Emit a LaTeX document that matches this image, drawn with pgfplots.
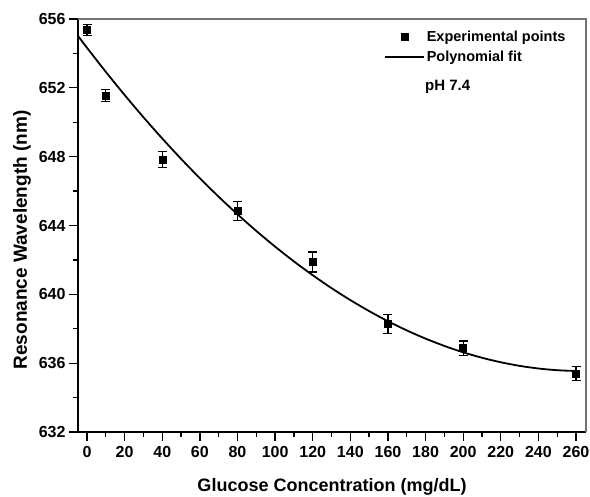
\documentclass[border=0pt]{standalone}
\usepackage{fontspec}
\setmainfont{Liberation Sans}
\usepackage{pgfplots}
\pgfplotsset{compat=1.18}

\begin{document}
\begin{tikzpicture}
\path[use as bounding box] (0,0) rectangle (590pt,497pt);
\begin{axis}[
  at={(78pt,65pt)}, anchor=south west,
  width=508pt, height=413pt, scale only axis,
  xmin=-4.8, xmax=265.3,
  ymin=632, ymax=656,
  xtick={0,20,...,260},
  ytick={632,636,...,656},
  minor x tick num=1, minor y tick num=1,
  axis x line*=bottom, axis y line*=left,
  axis line style={black, line width=1.3pt},
  tick align=outside,
  tick style={black, line width=1.3pt},
  major tick length=9pt, minor tick length=5pt,
  /pgf/number format/assume math mode=true,
  ticklabel style={font=\fontsize{16}{18}\selectfont\bfseries},
  xticklabel style={yshift=-2pt},
  every axis x label/.style={at={(rel axis cs:0.5,0)}, anchor=base, yshift=-60pt,
    font=\fontsize{18}{20}\selectfont\bfseries},
  every axis y label/.style={at={(rel axis cs:0,0.465)}, xshift=-51pt, anchor=base, rotate=90,
    font=\fontsize{19}{21}\selectfont\bfseries},
  xlabel={Glucose Concentration (mg/dL)},
  ylabel={Resonance Wavelength (nm)},
  clip=false,
  legend cell align=left,
  legend image code/.code={\draw[mark repeat=2,mark phase=2,#1] plot coordinates {(0pt,0pt) (19.5pt,0pt) (39pt,0pt)};},
  legend style={draw=none, fill=none, inner sep=0pt, outer sep=0pt,
    at={(rel axis cs:0.6024,0.9806)}, anchor=north west,
    font=\fontsize{14.5}{16}\selectfont\bfseries,
    nodes={inner sep=2pt, text height=12pt, text depth=4pt}},
]
% measured points with error bars
\addplot[only marks, mark=square*, mark size=3.5pt, black,
  error bars/.cd, y dir=both, y explicit,
  error bar style={line width=1.2pt, black},
  error mark options={rotate=90, mark size=4.5pt, line width=1.2pt, black}]
  coordinates {
  (0,655.36) +- (0,0.30)
  (10,651.54) +- (0,0.35)
  (40,647.84) +- (0,0.48)
  (80,644.86) +- (0,0.55)
  (120,641.88) +- (0,0.58)
  (160,638.28) +- (0,0.56)
  (200,636.87) +- (0,0.42)
  (260,635.41) +- (0,0.40)
  };
\addlegendentry{Experimental points}
% polynomial fit
\addplot[black, line width=1.8pt, smooth] coordinates {
  (-4.8,655.017) (0,654.326) (10,652.927) (20,651.582) (30,650.291) (40,649.055)
  (50,647.872) (60,646.744) (70,645.670) (80,644.650) (90,643.684) (100,642.772)
  (110,641.914) (120,641.111) (130,640.361) (140,639.666) (150,639.025) (160,638.437)
  (170,637.904) (180,637.426) (190,637.001) (200,636.630) (210,636.314) (220,636.052)
  (230,635.843) (240,635.689) (250,635.590) (260,635.544)
  };
\addlegendentry{Polynomial fit}
\node[anchor=base west, inner sep=0pt, font=\fontsize{15}{17}\selectfont\bfseries]
  at (axis cs:179.7,651.82) {pH 7.4};
\draw[black!55, line width=1.3pt] (rel axis cs:0,1) -- (rel axis cs:1,1) -- (rel axis cs:1,0);
\end{axis}
\end{tikzpicture}
\end{document}
